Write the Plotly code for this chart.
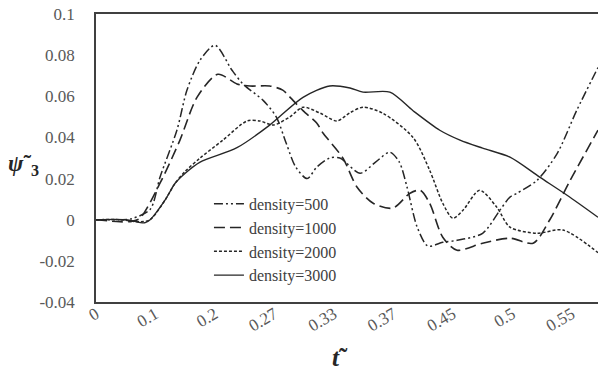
import plotly.graph_objects as go

# x positions are in category-label units (0 -> "0", 1 -> "0.1", ...)
tick_labels = ["0", "0.1", "0.2", "0.27", "0.33", "0.37", "0.45", "0.5", "0.55"]
tick_pos = [0, 1, 2, 3, 4, 5, 6, 7, 8]
y_tick_vals = [-0.04, -0.02, 0, 0.02, 0.04, 0.06, 0.08, 0.1]
y_tick_text = ["-0.04", "-0.02", "0", "0.02", "0.04", "0.06", "0.08", "0.1"]

x500 = [0, 0.4, 0.6, 0.91, 1.08, 1.36, 1.53, 1.75, 2.0, 2.29, 2.47, 2.81, 3.03, 3.2, 3.36, 3.55, 3.71, 3.93, 4.1, 4.44, 4.7, 4.94, 5.1, 5.23, 5.4, 5.58, 5.83, 6.07, 6.5, 6.79, 6.96, 7.08, 7.41, 7.75, 8.08, 8.44]
y500 = [0, 0, 0.0005, 0.005, 0.021, 0.0435, 0.063, 0.0776, 0.0848, 0.0725, 0.066, 0.058, 0.050, 0.037, 0.0255, 0.020, 0.0255, 0.030, 0.030, 0.0226, 0.028, 0.0328, 0.028, 0.0158, -0.0036, -0.0128, -0.011, -0.010, -0.0066, 0.0046, 0.011, 0.0129, 0.019, 0.032, 0.053, 0.074]

x1000 = [0, 0.4, 0.6, 0.74, 1.08, 1.41, 1.7, 2.05, 2.37, 2.59, 2.92, 3.14, 3.26, 3.48, 3.71, 3.82, 4.15, 4.39, 4.66, 4.99, 5.28, 5.45, 5.61, 5.83, 6.07, 6.5, 6.96, 7.35, 7.63, 7.97, 8.44]
y1000 = [0, -0.001, -0.0008, 0.0007, 0.018, 0.0386, 0.0596, 0.0707, 0.066, 0.065, 0.065, 0.063, 0.0596, 0.053, 0.047, 0.042, 0.030, 0.0158, 0.008, 0.0056, 0.0129, 0.0143, 0.008, -0.0085, -0.0148, -0.0114, -0.009, -0.0114, 0.0, 0.019, 0.0435]

x2000 = [0, 0.4, 0.74, 0.91, 1.16, 1.33, 1.5, 1.75, 2.13, 2.54, 2.76, 2.98, 3.26, 3.48, 3.77, 4.05, 4.27, 4.49, 4.82, 5.33, 5.61, 5.83, 6.0, 6.17, 6.45, 6.74, 6.96, 7.41, 7.85, 8.44]
y2000 = [0, 0, -0.001, 0.0, 0.0095, 0.0177, 0.0235, 0.030, 0.0386, 0.048, 0.048, 0.046, 0.050, 0.0547, 0.0518, 0.048, 0.052, 0.0547, 0.0518, 0.040, 0.024, 0.008, 0.0007, 0.0046, 0.0143, 0.006, -0.0036, -0.0066, -0.005, -0.016]

x3000 = [0, 0.5, 0.82, 0.91, 1.16, 1.33, 1.5, 1.75, 2.37, 2.92, 3.48, 3.93, 4.27, 4.49, 4.94, 5.33, 5.78, 6.12, 6.5, 6.96, 7.46, 7.92, 8.44]
y3000 = [0, 0, -0.0015, 0, 0.0095, 0.0177, 0.0226, 0.028, 0.035, 0.046, 0.0595, 0.065, 0.064, 0.062, 0.062, 0.053, 0.0435, 0.0387, 0.0348, 0.0304, 0.0207, 0.0119, 0.0012]

line_col = "#262626"
fig = go.Figure()
series = [
    ("density=500", x500, y500, "9px,3px,2px,3px,2px,3px", 1.5),
    ("density=1000", x1000, y1000, "11px,5px", 1.6),
    ("density=2000", x2000, y2000, "3px,2px", 1.5),
    ("density=3000", x3000, y3000, "solid", 1.4),
]
for name, xs, ys, dash, w in series:
    fig.add_trace(go.Scatter(x=xs, y=ys, mode="lines", name=name, legendgroup=name,
                             line=dict(color=line_col, width=w, dash=dash, shape="spline", smoothing=0.8)))

serif = "Liberation Serif"
fig.update_layout(
    width=598, height=374,
    margin=dict(l=96, r=0, t=14, b=72),
    plot_bgcolor="white", paper_bgcolor="white",
    font=dict(family=serif, color="#404040"),
    showlegend=True,
    legend=dict(x=0.225, y=0.40, xanchor="left", yanchor="top",
                bgcolor="rgba(0,0,0,0)", font=dict(size=16, color="#404040"),
                tracegroupgap=0, itemwidth=30),
    xaxis=dict(range=[0, 8.44], tickvals=tick_pos, ticktext=tick_labels,
               tickangle=-30, showgrid=False, zeroline=False, automargin=False,
               showline=True, linecolor="#404040", linewidth=1.5, mirror=True,
               ticks="", tickfont=dict(size=17, color="#595959"),
               ticklabelstandoff=-6),
    yaxis=dict(range=[-0.04, 0.1], tickvals=y_tick_vals, ticktext=y_tick_text,
               showgrid=False, zeroline=False, automargin=False,
               showline=True, linecolor="#404040", linewidth=1.5,
               ticks="", tickfont=dict(size=17, color="#595959"),
               ticklabelstandoff=16),
)
fig.add_annotation(text="<b><i>ψ</i>˜<sub>3</sub></b>", xref="paper", yref="paper",
                   x=-0.145, y=0.475, showarrow=False, xanchor="center", yanchor="middle",
                   font=dict(size=23, color="#262626", family=serif))
fig.add_annotation(text="<b><i>t</i>˜</b>", xref="paper", yref="paper",
                   x=0.487, y=-0.14, showarrow=False, xanchor="center", yanchor="top",
                   font=dict(size=25, color="#262626", family=serif))
fig.write_html("out.html", config={"displayModeBar": False},
               post_script="document.body.style.margin='0';document.body.style.padding='0';")
